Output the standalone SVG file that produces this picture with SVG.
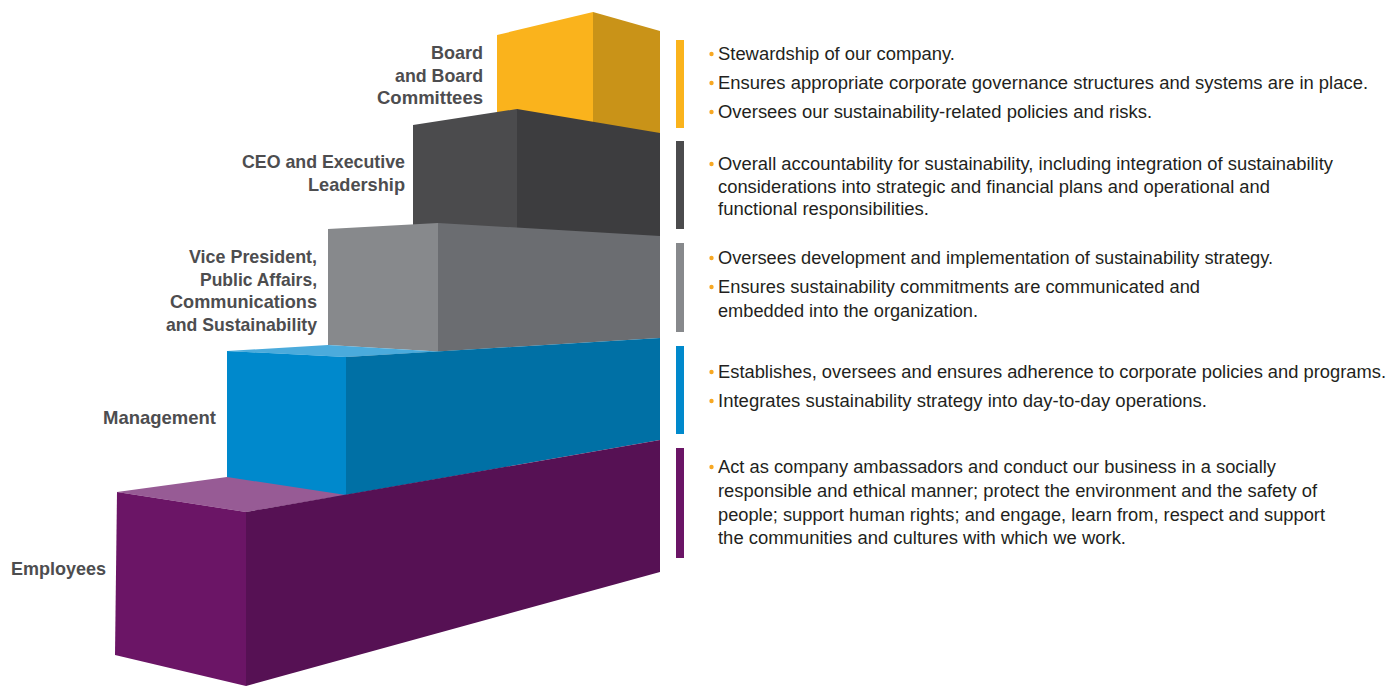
<svg xmlns="http://www.w3.org/2000/svg" width="1391" height="686" viewBox="0 0 1391 686">
<style>
.lbl{font-family:"Liberation Sans",Arial,sans-serif;font-weight:bold;font-size:19px;fill:#4D4D4F;text-anchor:end}
.txt{font-family:"Liberation Sans",Arial,sans-serif;font-size:17.5px;fill:#231F20}
.dot{fill:#F7A823}
</style>
<rect width="1391" height="686" fill="#FFFFFF"/>
<g id="step-board">
<polygon points="497,35 593,12 593,140 497,140" fill="#FAB31C"/>
<polygon points="593,12 660,31 660,140 593,140" fill="#C99318"/>
</g>
<g id="step-ceo">
<polygon points="413,125 517,109 517,240 413,240" fill="#4B4B4D"/>
<polygon points="517,109 660,133 660,240 517,240" fill="#3D3D3F"/>
</g>
<g id="step-vp">
<polygon points="328,229 438,223 438,351.4 328,345" fill="#87898C"/>
<polygon points="438,223 660,236 660,338 438,351.4" fill="#6B6D71"/>
</g>
<g id="step-management">
<polygon points="227,351 328,345 438,351.4 346,357" fill="#4BABDC"/>
<polygon points="227,351 346,357 346,500 227,480" fill="#0089CC"/>
<polygon points="346,357 660,338 660,440 346,495" fill="#0070A5"/>
</g>
<g id="step-employees">
<polygon points="117,492 227,477 346,495 246,512" fill="#975B95"/>
<polygon points="117,492 246,512 246,686 115,655" fill="#6B1566"/>
<polygon points="246,512 660,440 660,572 246,686" fill="#561154"/>
</g>
<g id="labels">
<text class="lbl" x="483" y="59" textLength="52" lengthAdjust="spacingAndGlyphs">Board</text>
<text class="lbl" x="483" y="82" textLength="88" lengthAdjust="spacingAndGlyphs">and Board</text>
<text class="lbl" x="483" y="104" textLength="106" lengthAdjust="spacingAndGlyphs">Committees</text>
<text class="lbl" x="405" y="168" textLength="163" lengthAdjust="spacingAndGlyphs">CEO and Executive</text>
<text class="lbl" x="405" y="191" textLength="97" lengthAdjust="spacingAndGlyphs">Leadership</text>
<text class="lbl" x="317" y="263" textLength="128" lengthAdjust="spacingAndGlyphs">Vice President,</text>
<text class="lbl" x="317" y="286" textLength="117" lengthAdjust="spacingAndGlyphs">Public Affairs,</text>
<text class="lbl" x="317" y="308" textLength="147" lengthAdjust="spacingAndGlyphs">Communications</text>
<text class="lbl" x="317" y="331" textLength="151" lengthAdjust="spacingAndGlyphs">and Sustainability</text>
<text class="lbl" x="216" y="424" textLength="113" lengthAdjust="spacingAndGlyphs">Management</text>
<text class="lbl" x="106" y="575" textLength="95" lengthAdjust="spacingAndGlyphs">Employees</text>
</g>
<g id="bars">
<rect x="676" y="40" width="8" height="88" fill="#FAB31C"/>
<rect x="676" y="141" width="8" height="88" fill="#4B4B4D"/>
<rect x="676" y="243" width="8" height="89" fill="#87898C"/>
<rect x="676" y="346" width="8" height="88" fill="#0089CC"/>
<rect x="676" y="448" width="8" height="110" fill="#6B1566"/>
</g>
<g id="descriptions">
<circle class="dot" cx="711.5" cy="54" r="2.2"/>
<text class="txt" x="718" y="60" textLength="237" lengthAdjust="spacingAndGlyphs">Stewardship of our company.</text>
<circle class="dot" cx="711.5" cy="83" r="2.2"/>
<text class="txt" x="718" y="89" textLength="650" lengthAdjust="spacingAndGlyphs">Ensures appropriate corporate governance structures and systems are in place.</text>
<circle class="dot" cx="711.5" cy="112" r="2.2"/>
<text class="txt" x="718" y="118" textLength="434" lengthAdjust="spacingAndGlyphs">Oversees our sustainability-related policies and risks.</text>
<circle class="dot" cx="711.5" cy="164" r="2.2"/>
<text class="txt" x="718" y="170" textLength="615" lengthAdjust="spacingAndGlyphs">Overall accountability for sustainability, including integration of sustainability</text>
<text class="txt" x="718" y="193" textLength="552" lengthAdjust="spacingAndGlyphs">considerations into strategic and financial plans and operational and</text>
<text class="txt" x="718" y="215" textLength="211" lengthAdjust="spacingAndGlyphs">functional responsibilities.</text>
<circle class="dot" cx="711.5" cy="258" r="2.2"/>
<text class="txt" x="718" y="264" textLength="555" lengthAdjust="spacingAndGlyphs">Oversees development and implementation of sustainability strategy.</text>
<circle class="dot" cx="711.5" cy="287" r="2.2"/>
<text class="txt" x="718" y="293" textLength="482" lengthAdjust="spacingAndGlyphs">Ensures sustainability commitments are communicated and</text>
<text class="txt" x="718" y="317" textLength="260" lengthAdjust="spacingAndGlyphs">embedded into the organization.</text>
<circle class="dot" cx="711.5" cy="372" r="2.2"/>
<text class="txt" x="718" y="378" textLength="668" lengthAdjust="spacingAndGlyphs">Establishes, oversees and ensures adherence to corporate policies and programs.</text>
<circle class="dot" cx="711.5" cy="401" r="2.2"/>
<text class="txt" x="718" y="407" textLength="489" lengthAdjust="spacingAndGlyphs">Integrates sustainability strategy into day-to-day operations.</text>
<circle class="dot" cx="711.5" cy="467" r="2.2"/>
<text class="txt" x="718" y="473" textLength="558" lengthAdjust="spacingAndGlyphs">Act as company ambassadors and conduct our business in a socially</text>
<text class="txt" x="718" y="497" textLength="599" lengthAdjust="spacingAndGlyphs">responsible and ethical manner; protect the environment and the safety of</text>
<text class="txt" x="718" y="521" textLength="607" lengthAdjust="spacingAndGlyphs">people; support human rights; and engage, learn from, respect and support</text>
<text class="txt" x="718" y="544" textLength="408" lengthAdjust="spacingAndGlyphs">the communities and cultures with which we work.</text>
</g>
</svg>
